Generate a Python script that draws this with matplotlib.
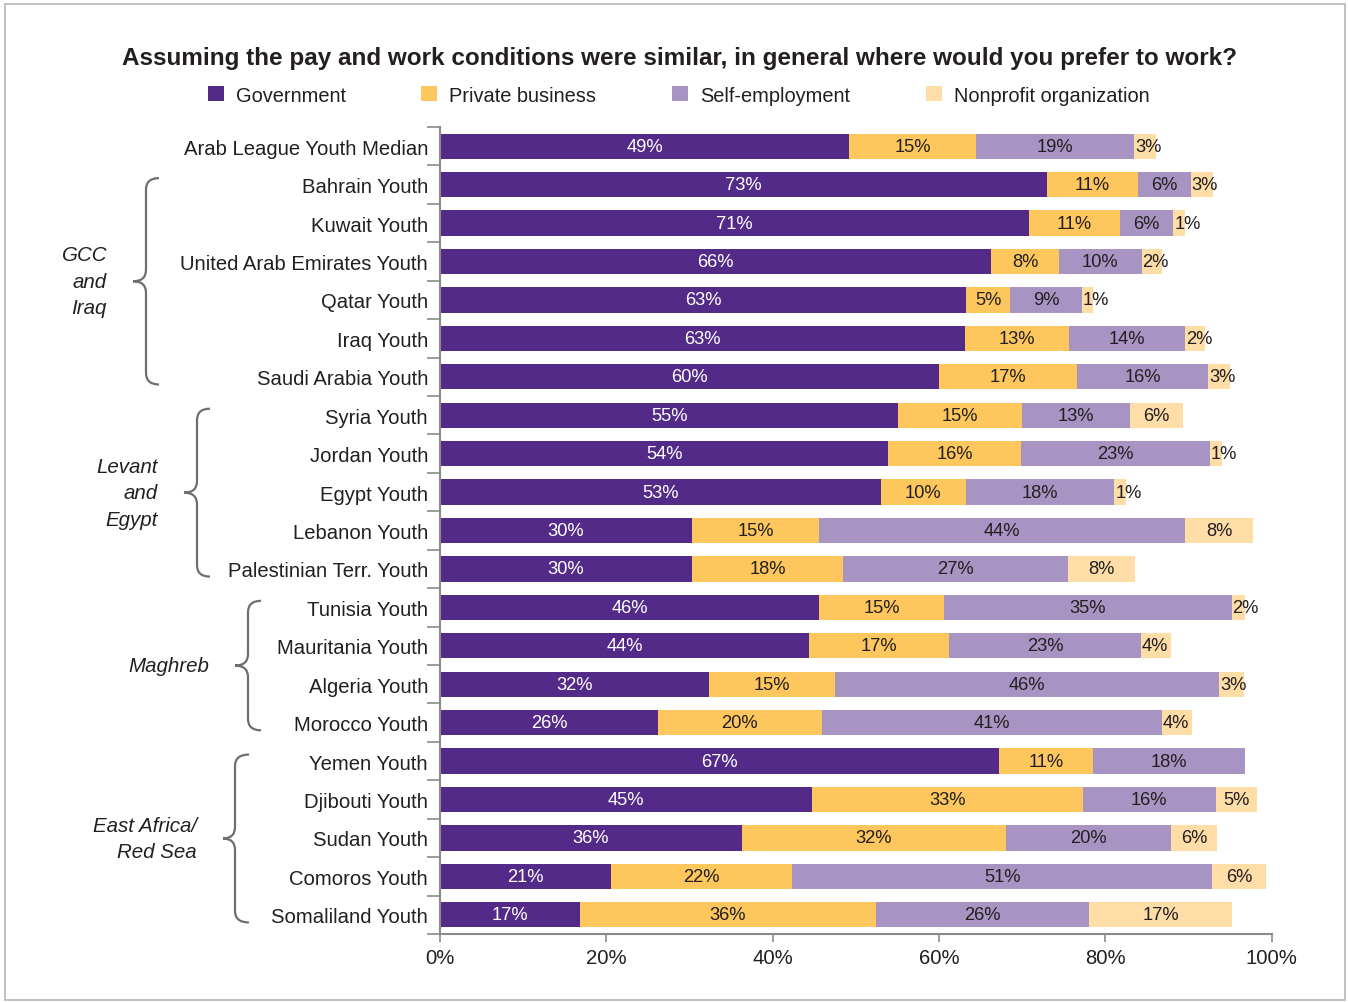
import matplotlib
matplotlib.use("Agg")
import matplotlib.pyplot as plt
from matplotlib.path import Path
from matplotlib.patches import PathPatch, Rectangle
from matplotlib.transforms import blended_transform_factory
import numpy as np

plt.rcParams['font.family'] = ['Liberation Sans', 'DejaVu Sans']

categories = ["Arab League Youth Median", "Bahrain Youth", "Kuwait Youth",
              "United Arab Emirates Youth", "Qatar Youth", "Iraq Youth",
              "Saudi Arabia Youth", "Syria Youth", "Jordan Youth", "Egypt Youth",
              "Lebanon Youth", "Palestinian Terr. Youth", "Tunisia Youth",
              "Mauritania Youth", "Algeria Youth", "Morocco Youth", "Yemen Youth",
              "Djibouti Youth", "Sudan Youth", "Comoros Youth", "Somaliland Youth"]

government = [49.2, 73.0, 70.8, 66.3, 63.3, 63.1, 60.0, 55.1, 53.9, 53.0, 30.3,
              30.3, 45.6, 44.4, 32.4, 26.2, 67.2, 44.7, 36.3, 20.6, 16.8]
private_business = [15.3, 10.9, 11.0, 8.1, 5.3, 12.6, 16.6, 14.9, 16.0, 10.2, 15.3,
                    18.2, 15.0, 16.8, 15.1, 19.7, 11.3, 32.6, 31.8, 21.7, 35.6]
self_employment = [19.0, 6.4, 6.4, 10.0, 8.6, 13.9, 15.8, 13.0, 22.7, 17.9, 44.0,
                   27.0, 34.6, 23.1, 46.2, 40.9, 18.3, 16.0, 19.8, 50.6, 25.7]
nonprofit = [2.6, 2.7, 1.4, 2.4, 1.3, 2.4, 2.6, 6.4, 1.4, 1.4, 8.2,
             8.1, 1.6, 3.6, 3.0, 3.6, 0.0, 5.0, 5.6, 6.4, 17.1]

series_names = ["Government", "Private business", "Self-employment", "Nonprofit organization"]
series_colors = ["#532a87", "#fdc75d", "#a894c3", "#fedda7"]
label_colors = ["white", "#231f20", "#231f20", "#231f20"]

groups = [("GCC\nand\nIraq", 1, 6), ("Levant\nand\nEgypt", 7, 11),
          ("Maghreb", 12, 15), ("East Africa/\nRed Sea", 16, 20)]

xticks = [0, 20, 40, 60, 80, 100]
xticklabels = ["0%", "20%", "40%", "60%", "80%", "100%"]

title = "Assuming the pay and work conditions were similar, in general where would you prefer to work?"

W, H = 1348, 1003
fig = plt.figure(figsize=(W / 100, H / 100), dpi=100)
ax = fig.add_axes([440 / W, 1 - 935 / H, 831.5 / W, 807 / H])

y = np.arange(len(categories))
data = [government, private_business, self_employment, nonprofit]
left = np.zeros(len(categories))
for vals, name, col, lc in zip(data, series_names, series_colors, label_colors):
    vals = np.array(vals)
    ax.barh(y, vals, left=left, height=0.66, color=col, label=name, edgecolor='none')
    for yi, (l, v) in enumerate(zip(left, vals)):
        if v <= 0:
            continue
        txt = f"{v:.0f}%"
        if v < 5:
            ax.text(l + 0.1, yi, txt, ha='left', va='center', color=lc, fontsize=13.2)
        else:
            ax.text(l + v / 2, yi, txt, ha='center', va='center', color=lc, fontsize=13.2)
    left = left + vals

ax.set_xlim(0, 100)
ax.set_ylim(len(categories) - 0.5, -0.5)
ax.set_yticks(y)
ax.set_yticklabels(categories, fontsize=14.6, color='#231f20')
ax.set_yticks(np.arange(-0.5, len(categories), 1.0), minor=True)
ax.tick_params(axis='y', which='major', length=0, pad=8.6)
ax.tick_params(axis='y', which='minor', length=9.4, width=1.2, color='#8a8a8a', direction='out')
ax.set_xticks(xticks)
ax.set_xticklabels(xticklabels, fontsize=14.6, color='#231f20')
ax.tick_params(axis='x', length=6, width=1.2, color='#8a8a8a', pad=4)
for s in ['top', 'right']:
    ax.spines[s].set_visible(False)
for s in ['left', 'bottom']:
    ax.spines[s].set_color('#8a8a8a')
    ax.spines[s].set_linewidth(1.5)

fig.text(679 / W, 1 - 58.5 / H, title, ha='center', va='center', fontsize=17.5,
         fontweight='bold', color='#231f20')

leg = ax.legend(loc='center', bbox_to_anchor=(678.5 / W, 1 - 96 / H), bbox_transform=fig.transFigure,
                ncol=4, frameon=False, fontsize=14.4, handlelength=0.8, handleheight=0.8,
                handletextpad=0.6, columnspacing=3.78, labelcolor='#231f20')

# braces
tr = blended_transform_factory(fig.transFigure, ax.transData)
brace_geo = [(146, 133, 159), (197, 184, 210), (248, 235, 261), (235, 223, 249)]
label_right = [107, 158, 209, 197]
for (name, i0, i1), (xl, xt, xe), xr in zip(groups, brace_geo, label_right):
    top = i0 - 0.17
    bot = i1 + 0.2
    mid = (top + bot) / 2
    r = 0.3
    fx = lambda px: px / W
    verts = [(fx(xe), top), (fx(xl), top), (fx(xl), top + r),
             (fx(xl), mid - r),
             (fx(xl), mid), (fx(xt), mid),
             (fx(xl), mid), (fx(xl), mid + r),
             (fx(xl), bot - r),
             (fx(xl), bot), (fx(xe), bot)]
    codes = [Path.MOVETO, Path.CURVE3, Path.CURVE3, Path.LINETO,
             Path.CURVE3, Path.CURVE3, Path.CURVE3, Path.CURVE3,
             Path.LINETO, Path.CURVE3, Path.CURVE3]
    patch = PathPatch(Path(verts, codes), transform=tr, fill=False, edgecolor='#6d6e71',
                      lw=1.6, clip_on=False)
    fig.add_artist(patch)
    t = fig.text(xr / W, mid, name, transform=tr, ha='right', va='center', multialignment='right',
                 fontsize=14.8, fontstyle='italic', color='#231f20', linespacing=1.5)

fig.add_artist(Rectangle((5 / W, 2 / H), 1340 / W, 996 / H, transform=fig.transFigure,
                         fill=False, edgecolor='#b5b5b5', lw=1.2))

fig.savefig("out.png", dpi=100, facecolor='white')
